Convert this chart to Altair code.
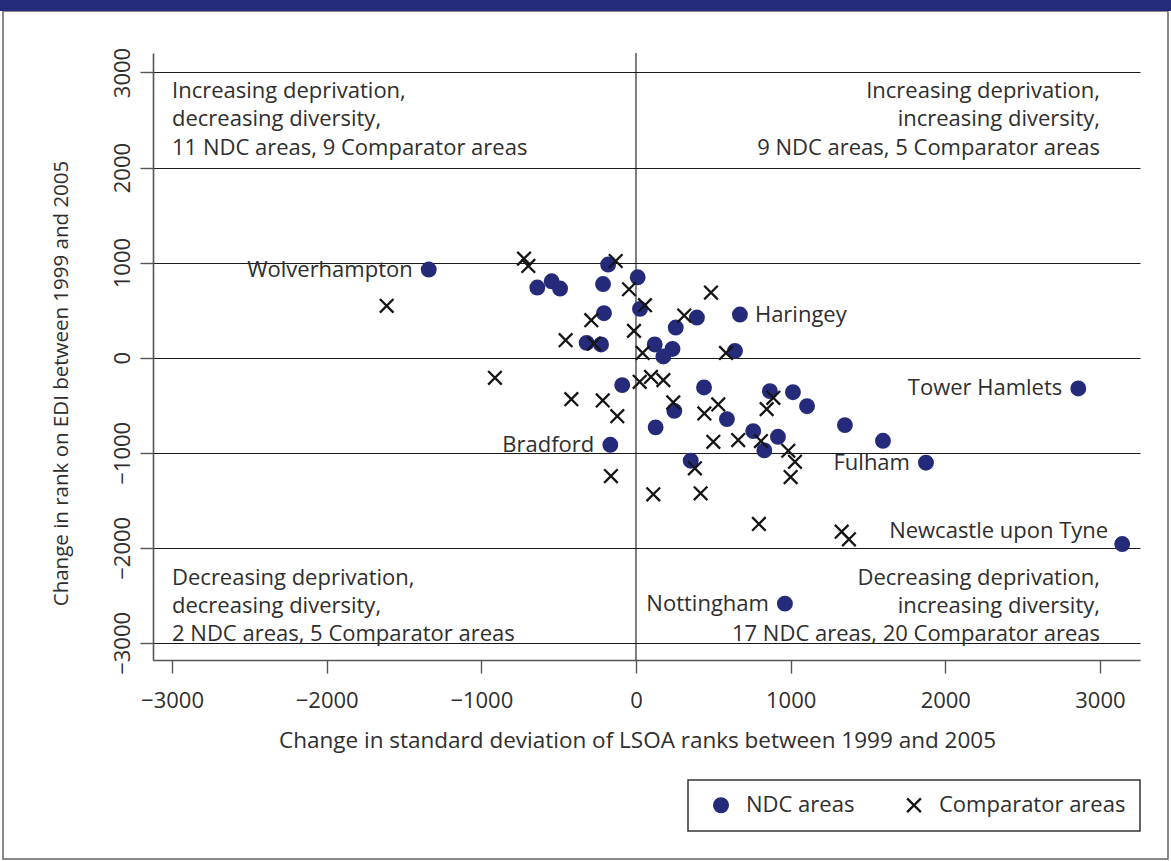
import altair as alt
import pandas as pd

FONT = "Open Sans"
NAVY = "#252a7a"
INK = "#2e2e2e"
AXIS_GREY = "#555555"

# NDC areas: change in SD of LSOA ranks (x) and change in EDI rank (y)
ndc_x = [-180, -638, -545, -491, -213, 11, 26, -207, -319, -226,
         121, 236, 177, 257, 394, 672, 640, -89, 248, 127,
         -166, 440, 588, 866, 1015, 1106, 758, 918, 830, 354,
         1351, 1597, 1875, 2860, 3144, -1340, 963]
ndc_y = [980, 738, 804, 727, 775, 846, 513, 468, 156, 139,
         139, 92, 13, 317, 422, 454, 71, -289, -559, -733,
         -916, -313, -646, -352, -363, -510, -772, -832, -975, -1084,
         -709, -874, -1105, -324, -1960, 927, -2587]
ndc_name = ["", "", "", "", "", "", "", "", "", "",
            "", "", "", "", "", "Haringey", "", "", "", "",
            "Bradford", "", "", "", "", "", "", "", "", "",
            "", "", "Fulham", "Tower Hamlets", "Newcastle upon Tyne", "Wolverhampton", "Nottingham"]

# Comparator areas
cmp_x = [-724, -696, -131, -45, 58, 485, 312, -289, -13, -455,
         -272, 43, 582, -912, 24, 97, 177, -418, -215, 241,
         -121, 532, 442, 888, 845, 500, 661, 808, 985, 1028,
         1000, 381, -162, 112, 418, -1612, 795, 1330, 1377]
cmp_y = [1042, 965, 1017, 720, 552, 685, 443, 394, 282, 184,
         149, 50, 50, -212, -254, -202, -236, -436, -450, -471,
         -615, -492, -586, -422, -541, -885, -867, -877, -979, -1095,
         -1256, -1164, -1245, -1437, -1427, 546, -1749, -1830, -1910]

groups = ["NDC areas", "Comparator areas"]
ticks = [-3000, -2000, -1000, 0, 1000, 2000, 3000]

# Quadrant captions
note_upper_left = ["Increasing deprivation,", "decreasing diversity,", "11 NDC areas, 9 Comparator areas"]
note_upper_right = ["Increasing deprivation,", "increasing diversity,", "9 NDC areas, 5 Comparator areas"]
note_lower_left = ["Decreasing deprivation,", "decreasing diversity,", "2 NDC areas, 5 Comparator areas"]
note_lower_right = ["Decreasing deprivation,", "increasing diversity,", "17 NDC areas, 20 Comparator areas"]

pts = pd.concat([
    pd.DataFrame({"sd": ndc_x, "edi": ndc_y, "name": ndc_name, "group": groups[0]}),
    pd.DataFrame({"sd": cmp_x, "edi": cmp_y, "name": "", "group": groups[1]}),
], ignore_index=True)

# caption anchors: x at the +/-3000 ticks, one baseline per line
upper_rows = [2734, 2436, 2135]
lower_rows = [-2390, -2685, -2979]
notes = pd.DataFrame({
    "sd": [-3000] * 3 + [3000] * 3 + [-3000] * 3 + [3000] * 3,
    "edi": upper_rows + upper_rows + lower_rows + lower_rows,
    "text": note_upper_left + note_upper_right + note_lower_left + note_lower_right,
    "side": ["left"] * 3 + ["right"] * 3 + ["left"] * 3 + ["right"] * 3,
})

xscale = alt.Scale(domain=[-3123, 3259], nice=False, zero=False)
yscale = alt.Scale(domain=[-3180, 3205], nice=False, zero=False)

X = alt.X("sd:Q", scale=xscale, title="Change in standard deviation of LSOA ranks between 1999 and 2005",
          axis=alt.Axis(values=ticks, format="d", grid=False, tickSize=13, labelPadding=17,
                        titlePadding=18, titleFontSize=22.5, titleX=484))
Y = alt.Y("edi:Q", scale=yscale, title="Change in rank on EDI between 1999 and 2005",
          axis=alt.Axis(values=ticks, format="d", grid=True, gridColor="#1a1a1a", gridWidth=1.1,
                        tickSize=13, labelAngle=270, labelAlign="center", labelBaseline="bottom",
                        labelPadding=6, titlePadding=40, titleFontSize=20.5, titleY=330))

base = alt.Chart(pts)

# outer frame and header band of the figure panel
frame = alt.Chart(pd.DataFrame({"k": [0]})).mark_rect(fillOpacity=0, stroke="#666666", strokeWidth=1.5).encode(
    x=alt.value(-150), x2=alt.value(1015), y=alt.value(-42), y2=alt.value(806))
header = alt.Chart(pd.DataFrame({"k": [0]})).mark_rect(fill=NAVY).encode(
    x=alt.value(-153), x2=alt.value(1018), y=alt.value(-53), y2=alt.value(-42))

zero_line = alt.Chart(pd.DataFrame({"sd": [0]})).mark_rule(color="#1a1a1a", strokeWidth=1.1).encode(x=alt.X("sd:Q", scale=xscale))

X_PATH = "M-1,-1L1,1M-1,1L1,-1"
points = base.mark_point(size=185, strokeWidth=2.3, opacity=1).encode(
    x=X, y=Y,
    shape=alt.Shape("group:N", scale=alt.Scale(domain=groups, range=["circle", X_PATH]), title=None),
    fill=alt.Fill("group:N", scale=alt.Scale(domain=groups, range=[NAVY, "transparent"]), title=None),
    stroke=alt.Stroke("group:N", scale=alt.Scale(domain=groups, range=[NAVY, "#151515"]), title=None),
)

text_style = dict(font=FONT, fontSize=22, color=INK)
labels_left = base.transform_filter(
    "datum.name != '' && datum.name != 'Haringey' && datum.name != 'Newcastle upon Tyne'"
).mark_text(align="right", baseline="middle", dx=-16, **text_style).encode(
    x=alt.X("sd:Q", scale=xscale), y=alt.Y("edi:Q", scale=yscale), text="name:N")
labels_right = base.transform_filter("datum.name == 'Haringey'").mark_text(
    align="left", baseline="middle", dx=15, **text_style).encode(
    x=alt.X("sd:Q", scale=xscale), y=alt.Y("edi:Q", scale=yscale), text="name:N")
labels_up = base.transform_filter("datum.name == 'Newcastle upon Tyne'").mark_text(
    align="right", baseline="middle", dx=-14, dy=-13, **text_style).encode(
    x=alt.X("sd:Q", scale=xscale), y=alt.Y("edi:Q", scale=yscale), text="name:N")

note_base = alt.Chart(notes)
notes_left = note_base.transform_filter("datum.side == 'left'").mark_text(
    align="left", baseline="alphabetic", **text_style).encode(
    x=alt.X("sd:Q", scale=xscale), y=alt.Y("edi:Q", scale=yscale), text="text:N")
notes_right = note_base.transform_filter("datum.side == 'right'").mark_text(
    align="right", baseline="alphabetic", **text_style).encode(
    x=alt.X("sd:Q", scale=xscale), y=alt.Y("edi:Q", scale=yscale), text="text:N")

chart = alt.layer(
    frame, header, zero_line, points, labels_left, labels_right, labels_up, notes_left, notes_right
).properties(
    width=987, height=607,
    autosize=alt.AutoSizeParams(type="none"),
    padding={"left": 153, "top": 53, "right": 31, "bottom": 201},
).configure_view(stroke=None).configure_axis(
    labelFont=FONT, labelFontSize=22, labelColor=INK,
    titleFont=FONT, titleFontWeight="normal", titleColor=INK,
    domainColor=AXIS_GREY, domainWidth=1.6, tickColor=AXIS_GREY, tickWidth=1.4,
).configure_legend(
    orient="none", legendX=535, legendY=727, direction="horizontal",
    padding=14, strokeColor="#333333", strokeWidth=1.5, fillColor="white",
    labelFont=FONT, labelFontSize=22, labelColor=INK, labelLimit=400,
    symbolSize=190, symbolStrokeWidth=2.3, symbolOffset=8, labelOffset=14, columnPadding=40,
)

chart.save("out.html", embed_options={"renderer": "svg", "actions": False})
